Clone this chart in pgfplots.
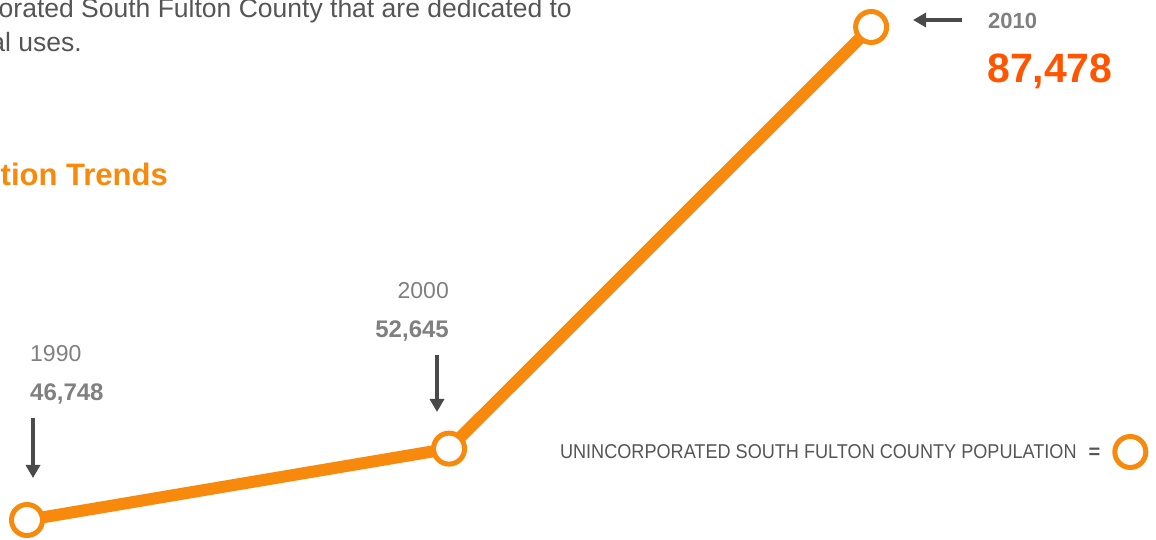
\documentclass[border=0pt]{standalone}
\usepackage{pgfplots}
\pgfplotsset{compat=1.18}
\usepackage{fontspec}
\setmainfont{Liberation Sans}
\usetikzlibrary{arrows.meta}
\definecolor{lineorange}{RGB}{247,137,12}
\definecolor{redorange}{RGB}{255,84,0}
\definecolor{labelgray}{RGB}{128,128,128}
\definecolor{bodygray}{RGB}{85,85,85}
\definecolor{arrowgray}{RGB}{74,74,74}
\newcommand{\fs}[1]{\fontsize{#1pt}{#1pt}\selectfont}
\begin{document}
\begin{tikzpicture}[x=1pt,y=1pt]
\clip (0,0) rectangle (1156,540);
\begin{axis}[
  at={(0,0)}, anchor=south west,
  scale only axis, width=1156pt, height=540pt,
  xmin=1989.36, xmax=2016.75,
  ymin=45096, ymax=89709,
  axis lines=none, clip=false,
  legend plot pos=right,
  legend style={at={(axis description cs:0.9935,0.163)}, anchor=east,
    draw=none, fill=none, inner sep=0pt,
    font=\fs{20}\color{bodygray}},
  legend image code/.code={\draw[draw=lineorange, line width=5pt, fill=white] (15.5pt,0pt) circle (15.5pt);},
]
\addplot[lineorange, line width=12pt, mark=*, mark size=15.5pt,
  mark options={fill=white, draw=lineorange, line width=5pt}]
  coordinates {(1990,46748) (2000,52645) (2010,87478)};
\addlegendentry{\scalebox{0.905}[1]{UNINCORPORATED SOUTH FULTON COUNTY POPULATION}\hspace{12pt}{\bfseries =}\rule{10pt}{0pt}}
\end{axis}
% text
\node[anchor=base east, inner sep=0pt, text=bodygray, font=\fs{26.5}] at (572,522) {orated South Fulton County that are dedicated to};
\node[anchor=base east, inner sep=0pt, text=bodygray, font=\fs{26.5}] at (82,488) {al uses.};
\node[anchor=base east, inner sep=0pt, text=lineorange, font=\fs{31}\bfseries] at (168,354) {tion Trends};
\node[anchor=base east, inner sep=0pt, text=labelgray, font=\fs{23}] at (449,241) {2000};
\node[anchor=base east, inner sep=0pt, text=labelgray, font=\fs{24}\bfseries] at (449,202) {52,645};
\node[anchor=base west, inner sep=0pt, text=labelgray, font=\fs{23}] at (30,178) {1990};
\node[anchor=base west, inner sep=0pt, text=labelgray, font=\fs{24}\bfseries] at (30,139) {46,748};
\node[anchor=base west, inner sep=0pt, text=labelgray, font=\fs{22}\bfseries] at (988,511) {2010};
\node[anchor=base west, inner sep=0pt, text=redorange, font=\fs{41}\bfseries] at (987,457) {87,478};
% arrows
\draw[arrowgray, line width=4pt, -{Triangle[width=14pt,length=13pt]}] (33,122) -- (33,62);
\draw[arrowgray, line width=4pt, -{Triangle[width=14pt,length=13pt]}] (437,185) -- (437,128);
\draw[arrowgray, line width=4pt, -{Triangle[width=14pt,length=13pt]}] (962,520) -- (913,520);
\end{tikzpicture}
\end{document}
